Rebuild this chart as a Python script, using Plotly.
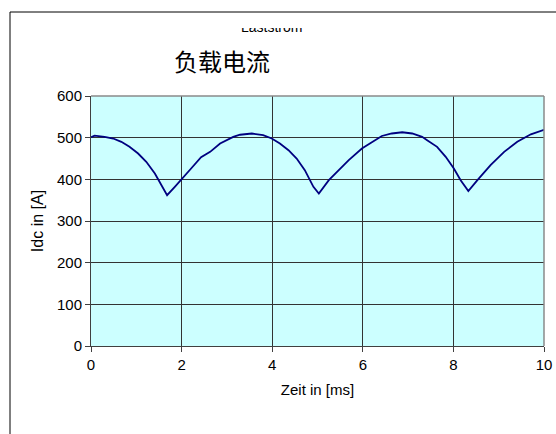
import plotly.graph_objects as go

# Data
zeit_ms = [0.00, 0.08, 0.30, 0.49, 0.67, 0.85, 1.04, 1.22, 1.41, 1.52, 1.68,
           1.85, 1.99, 2.21, 2.43, 2.63, 2.85, 3.14, 3.29, 3.55, 3.80, 3.99,
           4.17, 4.36, 4.54, 4.72, 4.91, 5.03, 5.25, 5.47, 5.69, 5.98, 6.20,
           6.42, 6.64, 6.87, 7.09, 7.31, 7.42, 7.64, 7.83, 8.01, 8.16, 8.33,
           8.53, 8.82, 9.12, 9.41, 9.71, 10.00]
idc_a = [501, 505, 502, 498, 490, 478, 462, 442, 414, 394, 362,
         382, 400, 426, 453, 466, 486, 502, 507, 510, 506, 498,
         486, 470, 450, 422, 382, 366, 398, 422, 446, 474, 490,
         504, 510, 513, 510, 502, 494, 478, 454, 426, 398, 372,
         398, 434, 466, 490, 508, 519]

x_ticks = [0, 2, 4, 6, 8, 10]
y_ticks = [0, 100, 200, 300, 400, 500, 600]

W, H = 556, 434
L, R, T, B = 91, 12, 96, 88
PW, PH = W - L - R, H - T - B

def px(x):
    return (x - L) / PW

def py(y):
    return (H - B - y) / PH

FONT = "Liberation Sans, Arial, sans-serif"

fig = go.Figure()
fig.add_trace(go.Scatter(x=zeit_ms, y=idc_a, mode="lines",
                         line=dict(color="#000080", width=1.8),
                         showlegend=False, hoverinfo="skip"))

axis_common = dict(showgrid=True, gridcolor="#333333", gridwidth=1,
                   zeroline=False, showline=True, linecolor="#404040",
                   linewidth=1, ticks="outside", ticklen=5, tickcolor="#404040",
                   automargin=False,
                   tickfont=dict(family=FONT, size=15, color="#000000"))

fig.update_xaxes(range=[0, 10], tickvals=x_ticks, **axis_common,
                 title=dict(text="Zeit in [ms]", standoff=12,
                            font=dict(family=FONT, size=15, color="#000000")))
fig.update_yaxes(range=[0, 600], tickvals=y_ticks, **axis_common,
                 title=dict(text="Idc in [A]", standoff=9,
                            font=dict(family=FONT, size=16, color="#000000")))

shapes = [
    # plot border top/right (gray)
    dict(type="line", xref="paper", yref="paper", x0=0, x1=1, y0=1, y1=1,
         line=dict(color="#8a8a8a", width=1.5)),
    dict(type="line", xref="paper", yref="paper", x0=1, x1=1, y0=0, y1=1,
         line=dict(color="#8a8a8a", width=1.5)),
    # outer chart frame (left and top)
    dict(type="line", xref="paper", yref="paper", x0=px(10), x1=px(10),
         y0=py(12), y1=py(H + 5), line=dict(color="#000000", width=1)),
    dict(type="line", xref="paper", yref="paper", x0=px(10), x1=px(W + 5),
         y0=py(12), y1=py(12), line=dict(color="#000000", width=1)),
]

annotations = [
    dict(text="Laststrom", xref="paper", yref="paper", x=px(271.5), y=py(27),
         xanchor="center", yanchor="middle", showarrow=False,
         font=dict(family=FONT, size=14, color="#000000")),
    # cover clipping the upper part of the original title
    dict(text=" ", xref="paper", yref="paper", x=px(271.5), y=py(21),
         xanchor="center", yanchor="middle", showarrow=False,
         bgcolor="#ffffff", width=90, height=14, borderpad=0, borderwidth=0),
    dict(text="负载电流", xref="paper", yref="paper", x=px(222), y=py(60),
         xanchor="center", yanchor="middle", showarrow=False,
         font=dict(family="Noto Sans CJK SC", size=24, color="#000000")),
]

fig.update_layout(template="none", width=W, height=H,
                  margin=dict(l=L, r=R, t=T, b=B, pad=0, autoexpand=False),
                  paper_bgcolor="#ffffff", plot_bgcolor="#ccffff",
                  shapes=shapes, annotations=annotations)

fig.write_html("out.html", config={"displayModeBar": False},
               post_script="document.documentElement.style.overflow='hidden';"
                           "document.body.style.margin='0';"
                           "document.body.style.overflow='hidden';")
